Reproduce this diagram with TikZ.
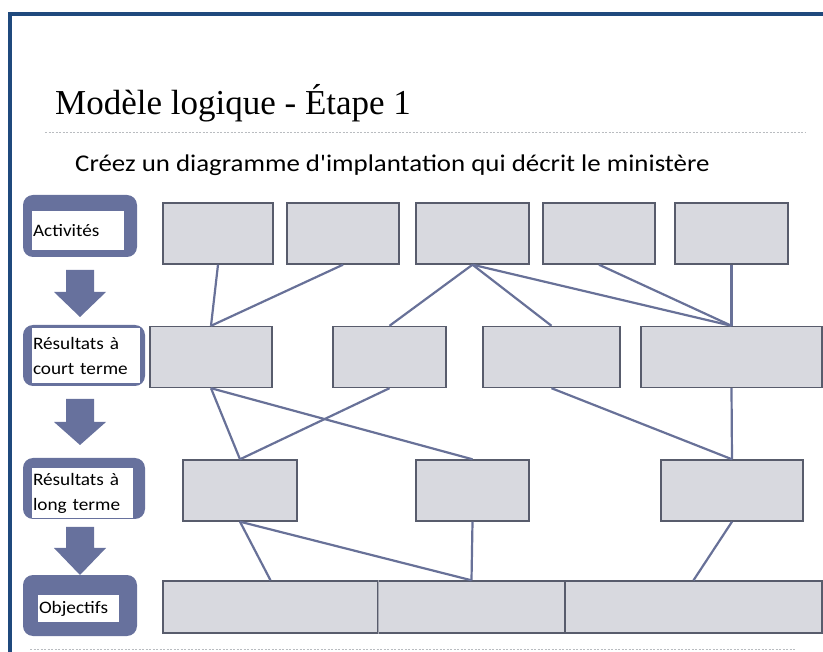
\documentclass[tikz,border=0pt]{standalone}
\usepackage{fontspec}
\setmainfont{Liberation Serif}
\newfontfamily\sansfont[FakeStretch=1.1]{Carlito}
\newfontfamily\soustitrefont[FakeStretch=1.12]{Carlito}
\usepackage{tikz}
\usetikzlibrary{calc}

\definecolor{navy}{RGB}{31,73,125}
\definecolor{ardoise}{RGB}{103,113,157}
\definecolor{lienbleu}{RGB}{104,113,152}
\definecolor{fondgris}{RGB}{216,217,223}
\definecolor{bordgris}{RGB}{88,92,108}
\definecolor{pointille}{RGB}{185,188,192}

\tikzset{
	boite/.style={draw=bordgris, fill=fondgris, line width=1.4pt, inner sep=0pt},
	cadre/.style={fill=ardoise, rounded corners=10pt, inner sep=0pt},
	etiq/.style={fill=white, inner xsep=1pt, inner ysep=0pt, align=left,
		font=\sansfont\fontsize{17.5}{25}\selectfont},
	lien/.style={draw=lienbleu, line width=2.2pt},
	regle/.style={draw=pointille, line width=0.8pt, dash pattern=on 2pt off 1.5pt}
}

\begin{document}
\begin{tikzpicture}[x=1pt, y=-1pt]
	\useasboundingbox (0,0) rectangle (823,652);
	
	%---------------- page frame and titles ----------------
	\draw[navy, line width=4pt] (9.5,660) -- (9.5,14.5) -- (830,14.5);
	\node[anchor=base west, inner sep=0pt, font=\fontsize{35}{40}\selectfont] (titre) at (55,115) {Modèle logique - Étape 1};
	\draw[regle] (45,132) -- (805,132);
	\node[anchor=base west, inner sep=0pt, font=\soustitrefont\fontsize{24}{28}\selectfont] (soustitre) at (75,172) {Créez un diagramme d'implantation qui décrit le ministère};
	\draw[regle] (30,649) -- (795,649);
	
	%---------------- LEFT: row labels ----------------
	\node[cadre, minimum width=114pt, minimum height=62pt] (lact) at (80,226) {};
	\node[cadre, minimum width=122pt, minimum height=61pt] (lcourt) at (84,355.5) {};
	\node[cadre, minimum width=122pt, minimum height=61pt] (llong) at (84,488.5) {};
	\node[cadre, minimum width=114pt, minimum height=61pt] (lobj) at (80,605.5) {};
	
	\node[etiq, text width=90pt, minimum height=39pt] (tact) at (78,230.5) {Activités};
	\node[etiq, text width=106pt, minimum height=55pt] (tcourt) at (86,355.5) {Résultats à\\court terme};
	\node[etiq, text width=99pt, minimum height=50pt] (tlong) at (82.5,493) {Résultats à\\long terme};
	\node[etiq, text width=79pt, minimum height=27pt] (tobj) at (78.5,608.5) {Objectifs};
	
	% block arrows between the labels
	\foreach \yt/\yh/\yp in {270/292/317, 399/422/445, 527/548/575} {
		\fill[ardoise] (66,\yt) -- (94,\yt) -- (94,\yh) -- (106,\yh) -- (80,\yp)
			-- (54,\yh) -- (66,\yh) -- cycle;
	}
	
	%---------------- RIGHT: boxes ----------------
	% activities
	\foreach \n/\x/\w in {a1/218/110, a2/343/112, a3/472.5/113, a4/599/112, a5/731.5/113} {
		\node[boite, minimum width=\w pt, minimum height=61pt] (\n) at (\x,233.5) {};
	}
	% short term results
	\foreach \n/\x/\w in {b1/211/122, b2/389.5/113, b3/551.5/137, b4/731.5/181} {
		\node[boite, minimum width=\w pt, minimum height=61pt] (\n) at (\x,357) {};
	}
	% long term results
	\foreach \n/\x/\w in {c1/240/114, c2/472.5/113, c3/732/142} {
		\node[boite, minimum width=\w pt, minimum height=61pt] (\n) at (\x,490.5) {};
	}
	% objectives
	\foreach \n/\x/\w in {d1/270.5/215, d2/471.5/187, d3/693.5/257} {
		\node[boite, minimum width=\w pt, minimum height=52pt] (\n) at (\x,607) {};
	}
	\draw[line width=1.4pt, fondgris!60!bordgris] (d1.north east) -- (d1.south east);
	
	%---------------- links ----------------
	\foreach \s/\t in {a1/b1, a2/b1, a3/b2, a3/b3, a3/b4, a4/b4, a5/b4,
		b1/c1, b1/c2, b2/c1, b3/c3, b4/c3,
		c1/d1, c1/d2, c2/d2, c3/d3} {
		\draw[lien] (\s.south) -- (\t.north);
	}
\end{tikzpicture}
\end{document}
